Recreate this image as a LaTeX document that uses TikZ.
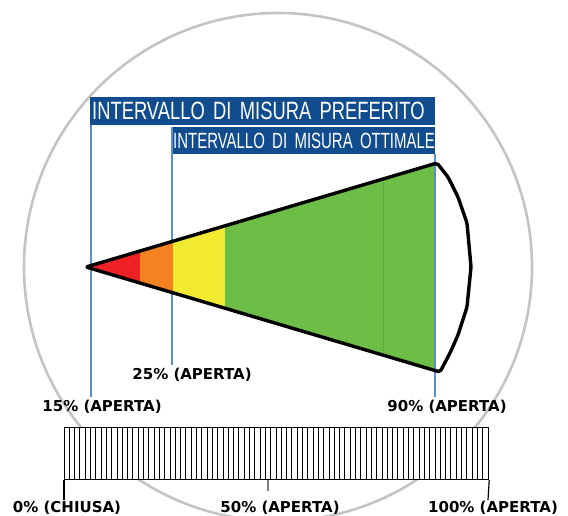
\documentclass[tikz,border=0pt]{standalone}
\usepackage{fontspec}
\usetikzlibrary{calc}
\setmainfont{DejaVu Sans}
\newfontfamily\narrowA[FakeStretch=0.735]{Liberation Sans}
\newfontfamily\narrowB[FakeStretch=0.68]{Liberation Sans}
\definecolor{bannerblue}{HTML}{114C8E}
\definecolor{guideblue}{HTML}{5B8ED1}
\definecolor{cred}{HTML}{EE2124}
\definecolor{corange}{HTML}{F58220}
\definecolor{cyellow}{HTML}{F2EA31}
\definecolor{cgreen}{HTML}{6CBE47}
\definecolor{cgreendark}{HTML}{5DAE40}
\definecolor{ringgray}{HTML}{C4C4C4}
\tikzset{
  lbl/.style={font=\bfseries\fontsize{15}{18}\selectfont, inner sep=0pt},
  guide/.style={draw=guideblue, line width=1.2pt},
  bannerA/.style={fill=bannerblue, text=white, anchor=north west, inner ysep=0pt, inner xsep=2pt,
     minimum height=28pt, text width=341pt, align=left, font=\narrowA\fontsize{25}{28}\selectfont},
  bannerB/.style={fill=bannerblue, text=white, anchor=north west, inner ysep=0pt, inner xsep=2pt,
     minimum height=27pt, text width=260pt, align=left, font=\narrowB\fontsize{22}{25}\selectfont},
  stripe/.style={draw=black, line width=0.9pt},
  tickmark/.style={draw=black, line width=1.2pt}
}
\begin{document}
\begin{tikzpicture}[x=1pt,y=-1pt]
\useasboundingbox (0,0) rectangle (568,515);
% background ring
\draw[ringgray, line width=2.6pt] (278,267) circle[radius=254];

% banners
\node[bannerA] (b1) at (90,97) {\mbox{INTERVALLO DI MISURA PREFERITO}};
\node[bannerB] (b2) at (171,127) {\mbox{INTERVALLO DI MISURA OTTIMALE}};

% labels
\node[lbl] (l25) at (192,375) {25\% (APERTA)};
\node[lbl] (l15) at (102,407) {15\% (APERTA)};
\node[lbl] (l90) at (447,407) {90\% (APERTA)};
\node[lbl] (l0) at (67,508) {0\% (CHIUSA)};
\node[lbl] (l50) at (280,508) {50\% (APERTA)};
\node[lbl] (l100) at (493,508) {100\% (APERTA)};

% guide end points
\coordinate (g15a) at (91,125);
\coordinate (g15b) at (91,397);
\coordinate (g25a) at (172,127);
\coordinate (g25b) at (172,365);
\coordinate (g90a) at (435,154);
\coordinate (g90b) at (435,397);
\draw[guide] (g15a) -- (g15b);
\draw[guide] (g25a) -- (g25b);
\draw[guide] (g90a) -- (g90b);

% cone
\coordinate (tip) at (86,267);
\coordinate (ctop) at (437,163);
\coordinate (cbot) at (440,372);
\begin{scope}
  \clip (tip) -- (ctop) -- (cbot) -- cycle;
  \fill[cred] (80,150) rectangle (140,380);
  \fill[corange] (140,150) rectangle (173,380);
  \fill[cyellow] (173,150) rectangle (225,380);
  \fill[cgreen] (225,150) rectangle (435,380);
  \draw[cgreendark, line width=0.8pt] (383,150) -- (383,380);
\end{scope}
\draw[guideblue, line width=1.2pt] (435,163) -- (435,372);
\draw[line width=3.4pt, line join=round, rounded corners=2pt]
  (tip) -- (ctop) -- (448,177) -- (458,197) -- (467,223) -- (471,267)
  -- (467,307) -- (458,335) -- (450,353) -- (cbot) -- cycle;

% scale bar
\node[draw=black, fill=white, line width=1.2pt, minimum width=424pt, minimum height=52pt,
      inner sep=0pt, anchor=north west] (scale) at (64,427) {};
\foreach \i in {1,...,79} {
  \draw[stripe] ($(scale.north west)+(\i*5.3,0)$) -- ($(scale.south west)+(\i*5.3,0)$);
}
\coordinate (t0) at (64,500);
\coordinate (t50) at (268,491);
\coordinate (t100) at (488,500);
\draw[tickmark] (scale.south west) -- (t0);
\draw[gray, line width=1.4pt] (t50 |- scale.south) -- (t50);
\draw[tickmark] (scale.south east) -- (t100);
\end{tikzpicture}
\end{document}
